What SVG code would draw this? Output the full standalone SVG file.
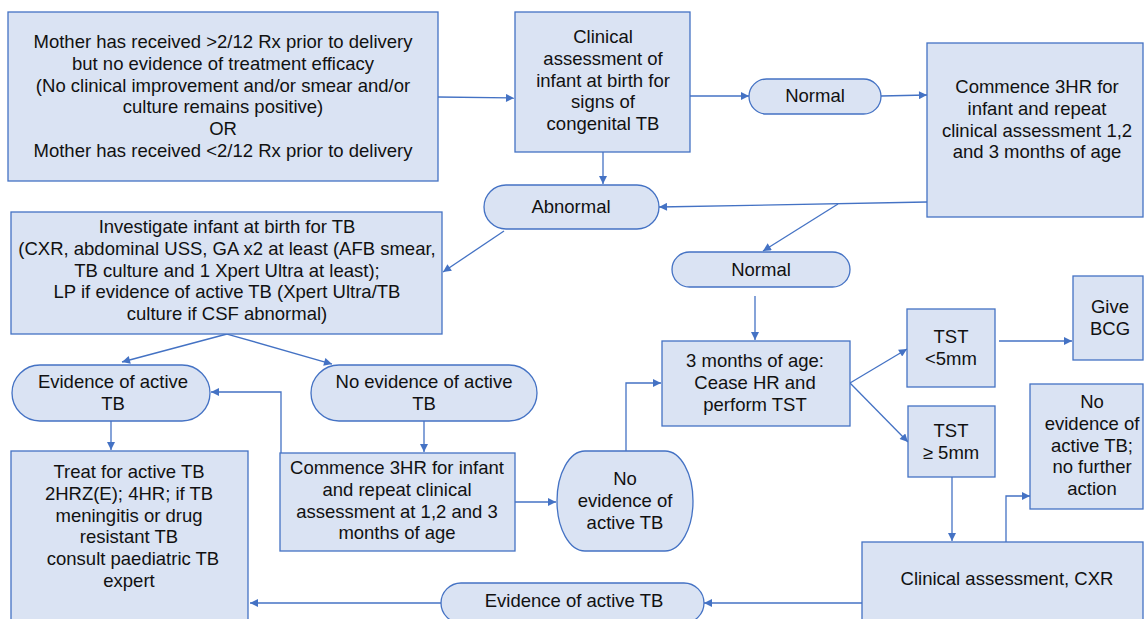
<svg xmlns="http://www.w3.org/2000/svg" width="1144" height="619" viewBox="0 0 1144 619">
<defs>
<style>
.n{fill:#dae3f3;stroke:#4472c4;stroke-width:1.3}
.t{font-family:"Liberation Sans","Noto Sans",sans-serif;font-size:18.5px;fill:#111;text-anchor:middle}
.c{fill:none;stroke:#4472c4;stroke-width:1.3}
</style>
<marker id="a" viewBox="0 0 10 10" refX="10" refY="5" markerWidth="9" markerHeight="8" markerUnits="userSpaceOnUse" orient="auto">
<path d="M0,0 L10,5 L0,10 z" fill="#4472c4"/>
</marker>
</defs>
<rect width="1144" height="619" fill="#fff"/>
<g id="connectors">
<path class="c" marker-end="url(#a)" d="M438,97 L514,98"/>
<path class="c" marker-end="url(#a)" d="M690,96 L749,96"/>
<path class="c" marker-end="url(#a)" d="M881,96 L927,95"/>
<path class="c" marker-end="url(#a)" d="M603,152 L603,184"/>
<path class="c" marker-end="url(#a)" d="M927,202 L659,207"/>
<path class="c" marker-end="url(#a)" d="M838,204 L763,251"/>
<path class="c" marker-end="url(#a)" d="M504,231 L443,272"/>
<path class="c" marker-end="url(#a)" d="M227,334 L122,362"/>
<path class="c" marker-end="url(#a)" d="M227,334 L332,364"/>
<path class="c" marker-end="url(#a)" d="M111,421 L111,450"/>
<path class="c" marker-end="url(#a)" d="M424,421 L424,452"/>
<path class="c" marker-end="url(#a)" d="M281,453 L281,392 L211,392"/>
<path class="c" marker-end="url(#a)" d="M515,502 L556,502"/>
<path class="c" marker-end="url(#a)" d="M626,451 L626,383 L661,383"/>
<path class="c" marker-end="url(#a)" d="M755,296 L755,340"/>
<path class="c" marker-end="url(#a)" d="M850,383 L907,349"/>
<path class="c" marker-end="url(#a)" d="M850,383 L908,442"/>
<path class="c" marker-end="url(#a)" d="M999,341 L1072,341"/>
<path class="c" marker-end="url(#a)" d="M952,477 L952,541"/>
<path class="c" marker-end="url(#a)" d="M1006,542 L1006,496 L1030,496"/>
<path class="c" marker-end="url(#a)" d="M862,603 L704,603"/>
<path class="c" marker-end="url(#a)" d="M441,603 L250,603"/>
</g>
<g id="mother">
<rect class="n" x="8" y="12" width="430" height="169"/>
<text class="t" x="223" y="48">Mother has received &gt;2/12 Rx prior to delivery</text>
<text class="t" x="223" y="69.8">but no evidence of treatment efficacy</text>
<text class="t" x="223" y="91.6">(No clinical improvement and/or smear and/or</text>
<text class="t" x="223" y="113.4">culture remains positive)</text>
<text class="t" x="223" y="135.2">OR</text>
<text class="t" x="223" y="157">Mother has received &lt;2/12 Rx prior to delivery</text>
</g>
<g id="clinical">
<rect class="n" x="515" y="12" width="175" height="140"/>
<text class="t" x="603" y="43">Clinical</text>
<text class="t" x="603" y="64.8">assessment of</text>
<text class="t" x="603" y="86.6">infant at birth for</text>
<text class="t" x="603" y="108.4">signs of</text>
<text class="t" x="603" y="130.2">congenital TB</text>
</g>
<g id="normal1">
<rect class="n" x="749" y="79" width="132" height="35" rx="17.5"/>
<text class="t" x="815" y="102">Normal</text>
</g>
<g id="commence1">
<rect class="n" x="927" y="43" width="216" height="174"/>
<text class="t" x="1037" y="93">Commence 3HR for</text>
<text class="t" x="1037" y="114.8">infant and repeat</text>
<text class="t" x="1037" y="136.6">clinical assessment 1,2</text>
<text class="t" x="1037" y="158.4">and 3 months of age</text>
</g>
<g id="abnormal">
<rect class="n" x="484" y="185" width="175" height="44" rx="22"/>
<text class="t" x="571" y="213">Abnormal</text>
</g>
<g id="investigate">
<rect class="n" x="11" y="212" width="431" height="122"/>
<text class="t" x="227" y="233">Investigate infant at birth for TB</text>
<text class="t" x="227" y="254.8">(CXR, abdominal USS, GA x2 at least (AFB smear,</text>
<text class="t" x="227" y="276.6">TB culture and 1 Xpert Ultra at least);</text>
<text class="t" x="227" y="298.4">LP if evidence of active TB (Xpert Ultra/TB</text>
<text class="t" x="227" y="320.2">culture if CSF abnormal)</text>
</g>
<g id="normal2">
<rect class="n" x="672" y="252" width="178" height="35" rx="17.5"/>
<text class="t" x="761" y="276">Normal</text>
</g>
<g id="evidence1">
<rect class="n" x="12" y="365" width="198" height="56" rx="28"/>
<text class="t" x="113" y="388">Evidence of active</text>
<text class="t" x="113" y="409.8">TB</text>
</g>
<g id="noevidence1">
<rect class="n" x="311" y="365" width="226" height="56" rx="28"/>
<text class="t" x="424" y="388">No evidence of active</text>
<text class="t" x="424" y="409.8">TB</text>
</g>
<g id="treat">
<rect class="n" x="11" y="451" width="237" height="170"/>
<text class="t" x="129" y="478">Treat for active TB</text>
<text class="t" x="129" y="499.8">2HRZ(E); 4HR; if TB</text>
<text class="t" x="129" y="521.6">meningitis or drug</text>
<text class="t" x="129" y="543.4">resistant TB</text>
<text class="t" x="133" y="565.2">consult paediatric TB</text>
<text class="t" x="129" y="587">expert</text>
</g>
<g id="commence2">
<rect class="n" x="280" y="453" width="235" height="98"/>
<text class="t" x="397" y="474">Commence 3HR for infant</text>
<text class="t" x="397" y="495.8">and repeat clinical</text>
<text class="t" x="397" y="517.6">assessment at 1,2 and 3</text>
<text class="t" x="397" y="539.4">months of age</text>
</g>
<g id="noevidence2">
<rect class="n" x="557" y="451" width="136" height="100" rx="28" ry="50"/>
<text class="t" x="625" y="485">No</text>
<text class="t" x="625" y="506.8">evidence of</text>
<text class="t" x="625" y="528.6">active TB</text>
</g>
<g id="threemonths">
<rect class="n" x="662" y="341" width="188" height="85"/>
<text class="t" x="755" y="367">3 months of age:</text>
<text class="t" x="755" y="388.8">Cease HR and</text>
<text class="t" x="755" y="410.6">perform TST</text>
</g>
<g id="tstlow">
<rect class="n" x="907" y="309" width="88" height="78"/>
<text class="t" x="951" y="343">TST</text>
<text class="t" x="951" y="364.8">&lt;5mm</text>
</g>
<g id="bcg">
<rect class="n" x="1073" y="276" width="70" height="84"/>
<text class="t" x="1110" y="313">Give</text>
<text class="t" x="1110" y="334.8">BCG</text>
</g>
<g id="tsthigh">
<rect class="n" x="908" y="406" width="87" height="71"/>
<text class="t" x="951" y="437">TST</text>
<text class="t" x="951" y="458.8">≥ 5mm</text>
</g>
<g id="nofurther">
<rect class="n" x="1030" y="384" width="113" height="125"/>
<text class="t" x="1092" y="408">No</text>
<text class="t" x="1092" y="429.8">evidence of</text>
<text class="t" x="1092" y="451.6">active TB;</text>
<text class="t" x="1092" y="473.4">no further</text>
<text class="t" x="1092" y="495.2">action</text>
</g>
<g id="cxr">
<rect class="n" x="862" y="542" width="281" height="79"/>
<text class="t" x="1007" y="585">Clinical assessment, CXR</text>
</g>
<g id="evidence2">
<rect class="n" x="441" y="583" width="263" height="40" rx="20"/>
<text class="t" x="574" y="607">Evidence of active TB</text>
</g>
</svg>
